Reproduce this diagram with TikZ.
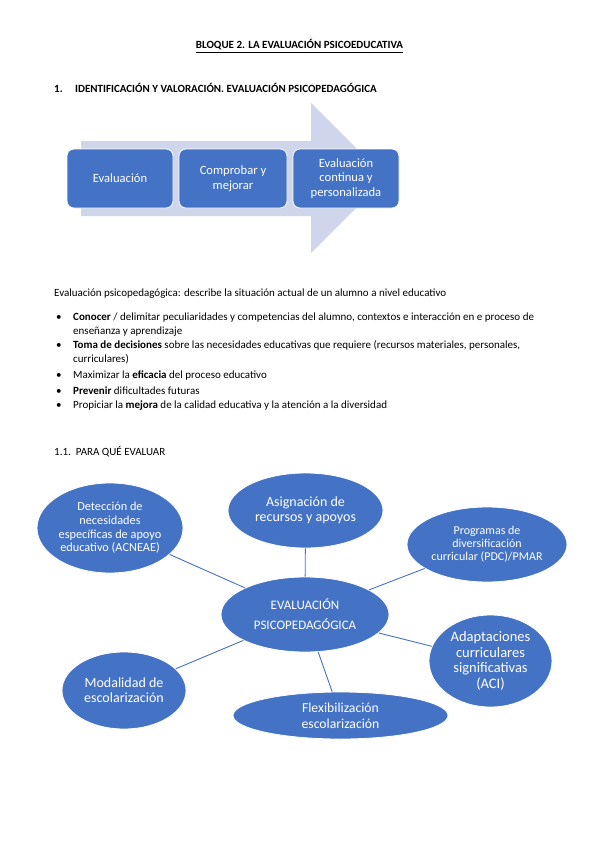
\documentclass[tikz,border=0pt]{standalone}
\usepackage{fontspec}
\setmainfont{Carlito}
\usepackage{xcolor}
\usetikzlibrary{shapes.geometric}

\definecolor{azul}{HTML}{4472C4}
\definecolor{lila}{HTML}{CFD5EA}

\tikzset{
  paso/.style={rectangle, rounded corners=7pt, fill=azul, draw=white, line width=0.8pt,
    text=white, align=center, minimum height=59pt, inner sep=2pt,
    font=\fontsize{12.6}{14.5}\selectfont},
  globo/.style={ellipse, fill=azul, draw=white, line width=0.8pt,
    text=white, align=center, inner xsep=-8pt, inner ysep=-5pt},
  enlace/.style={draw=azul, line width=0.9pt},
  linea/.style={anchor=base west, inner sep=0pt, font=\fontsize{11}{13}\selectfont},
}

\begin{document}
\begin{tikzpicture}[x=1pt,y=-1pt]
                \path[fill=white] (0,0) rectangle (599,848);

                % titulos
                \node[anchor=base, inner sep=0pt, font=\fontsize{11}{13}\selectfont\bfseries] (titulo) at (299.5,49) {\underline{BLOQUE 2. LA EVALUACIÓN PSICOEDUCATIVA}};
                \node[linea, font=\fontsize{11}{13}\selectfont\bfseries] (num1) at (54,93) {1.};
                \node[linea, font=\fontsize{11}{13}\selectfont\bfseries] (tema1) at (75,93) {IDENTIFICACIÓN Y VALORACIÓN. EVALUACIÓN PSICOPEDAGÓGICA};

                % flecha y pasos
                \fill[lila] (81,141) -- (311,141) -- (311,103) -- (386,178) -- (311,253) -- (311,216) -- (81,216) -- cycle;
                \node[paso, minimum width=106pt] (p1) at (120,178.5) {Evaluación};
                \node[paso, minimum width=108pt] (p2) at (233,178.5) {Comprobar y\\mejorar};
                \node[paso, minimum width=106pt] (p3) at (346,178.5) {Evaluación\\continua y\\personalizada};

                % texto
                \node[linea] (def) at (54,296) {Evaluación psicopedagógica: describe la situación actual de un alumno a nivel educativo};
                \foreach \y/\nom in {316/b1, 344/b2, 374/b3, 390/b4, 404/b5}
                    \node[linea] (\nom) at (56,\y+4) {\textbullet};
                \node[linea] (l1) at (73,320) {\textbf{Conocer} / delimitar peculiaridades y competencias del alumno, contextos e interacción en e proceso de};
                \node[linea] (l1b) at (73,334) {enseñanza y aprendizaje};
                \node[linea] (l2) at (73,348) {\textbf{Toma de decisiones} sobre las necesidades educativas que requiere (recursos materiales, personales,};
                \node[linea] (l2b) at (73,362) {curriculares)};
                \node[linea] (l3) at (73,378) {Maximizar la \textbf{eficacia} del proceso educativo};
                \node[linea] (l4) at (73,394) {\textbf{Prevenir} dificultades futuras};
                \node[linea] (l5) at (73,408) {Propiciar la \textbf{mejora} de la calidad educativa y la atención a la diversidad};
                \node[linea] (tema11) at (54,455) {1.1.\ \ PARA QUÉ EVALUAR};

                % mapa
                \node[globo, minimum width=168pt, minimum height=75pt, font=\fontsize{13}{20}\selectfont] (cen) at (305,614.5) {EVALUACIÓN\\PSICOPEDAGÓGICA};
                \node[globo, minimum width=146pt, minimum height=90pt, font=\fontsize{12.3}{13.7}\selectfont] (det) at (110,528) {Detección de\\necesidades\\específicas de apoyo\\educativo (ACNEAE)};
                \node[globo, minimum width=155pt, minimum height=75pt, font=\fontsize{14}{15}\selectfont] (asig) at (305.5,510.5) {Asignación de\\recursos y apoyos};
                \node[globo, minimum width=160pt, minimum height=75pt, font=\fontsize{12}{13}\selectfont] (prog) at (487,544.5) {Programas de\\diversificación\\curricular (PDC)/PMAR};
                \node[globo, minimum width=123pt, minimum height=92pt, font=\fontsize{14.5}{15.7}\selectfont] (adap) at (490.5,661) {Adaptaciones\\curriculares\\significativas\\(ACI)};
                \node[globo, minimum width=124pt, minimum height=77pt, font=\fontsize{14}{15}\selectfont] (mod) at (124,690.5) {Modalidad de\\escolarización};
                \node[globo, minimum width=215pt, minimum height=47pt, font=\fontsize{13.7}{16}\selectfont] (flex) at (340.5,715.5) {Flexibilización\\escolarización};

                \foreach \otro in {det, asig, prog, adap, flex, mod}
                    \draw[enlace] (cen) -- (\otro);
            \end{tikzpicture}
\end{document}
